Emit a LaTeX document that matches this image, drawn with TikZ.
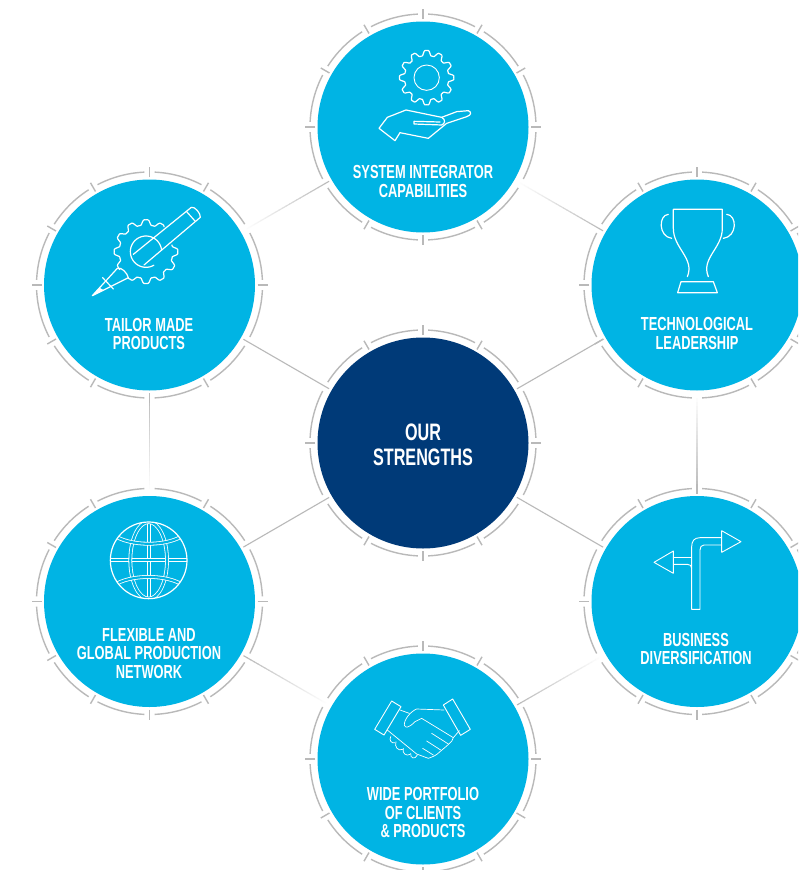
\documentclass[tikz,border=0pt]{standalone}
\usepackage{fontspec}
\setmainfont[FakeStretch=0.68]{Liberation Sans}
\usetikzlibrary{calc}
\definecolor{cyanfill}{RGB}{0,180,228}
\definecolor{navyfill}{RGB}{0,58,120}
\definecolor{ringgrey}{RGB}{185,185,185}
\tikzset{
  hubnode/.style={circle,fill=#1,draw=none,minimum size=211pt,inner sep=0pt,outer sep=3pt},
  caption/.style={text=white,align=center,font=\bfseries\fontsize{18.9}{18.8}\selectfont,inner sep=0pt},
  bigcaption/.style={text=white,align=center,font=\bfseries\fontsize{23.8}{25.5}\selectfont,inner sep=0pt},
  icon/.style={draw=white,line width=1.2pt,line join=round,line cap=round},
  thinicon/.style={draw=white,line width=0.9pt,line join=round,line cap=round},
  hairicon/.style={draw=white,line width=0.7pt,line join=round,line cap=round},
  zoomed/.style={shift={(#1)},x=0.33333pt,y=-0.33333pt},
}
\newcommand\ringat[2]{%
  \begin{scope}[shift={(#1)}]
    \foreach \a in {0,30,...,330}{%
      \draw[ringgrey,line width=1.4pt] (\a+2.6:113pt) arc[start angle=\a+2.6,delta angle=24.8,radius=113pt];}
    \foreach \a in {#2}{%
      \draw[ringgrey,line width=1.4pt] (\a:108pt) -- (\a:118pt);}
  \end{scope}}
% connector from node to node, colour running from #3 to #4
\newcommand\fadelink[4]{%
  \path (#1) -- (#2) coordinate[pos=0] (fs) coordinate[pos=1] (fe);
  \foreach \i in {0,...,23}{%
    \pgfmathsetmacro\ta{\i/24}\pgfmathsetmacro\tb{(\i+1.15)/24}\pgfmathtruncatemacro\pc{100-\i*100/23}
    \colorlet{fadecol}{#3!\pc!#4}
    \draw[fadecol,line width=1.1pt] ($(fs)!\ta!(fe)$) -- ($(fs)!\tb!(fe)$);}}
\begin{document}
\begin{tikzpicture}[x=1pt,y=-1pt]
\useasboundingbox (0,0) rectangle (798,870);
\clip (0,0) rectangle (798,870);
\fill[white] (0,0) rectangle (798,870);
\node[hubnode=navyfill] (hub) at (423,443) {};
\node[hubnode=cyanfill] (top) at (423,127) {};
\node[hubnode=cyanfill] (tl) at (149.5,285) {};
\node[hubnode=cyanfill] (tr) at (697,285) {};
\node[hubnode=cyanfill] (bl) at (149.5,601.5) {};
\node[hubnode=cyanfill] (br) at (697,601.5) {};
\node[hubnode=cyanfill] (bot) at (423,759) {};
% connectors
\foreach \n in {tl,tr,bl,br}{\draw[ringgrey,line width=1.1pt] (hub) -- (\n);}
\fadelink{top}{tl}{ringgrey}{white}
\fadelink{tr}{top}{ringgrey}{white}
\fadelink{tl}{bl}{ringgrey}{white}
\fadelink{br}{tr}{ringgrey}{white}
\fadelink{bl}{bot}{ringgrey}{white}
\fadelink{bot}{br}{ringgrey}{white}
% rings
\ringat{hub}{0,60,90,120,180,240,270,300}
\ringat{top}{0,30,60,90,120,150,180,240,270,300}
\ringat{tl}{0,60,90,120,150,180,210,240,270,300}
\ringat{tr}{30,60,90,120,180,210,240,300,330}
\ringat{bl}{0,60,120,150,180,210,240,270,300}
\ringat{br}{30,60,90,120,180,240,270,300,330}
\ringat{bot}{0,60,90,120,180,210,240,270,300,330}
% captions
\node[caption] (c1) at (423,181.5) {SYSTEM INTEGRATOR\\CAPABILITIES};
\node[caption] (c2) at (149,334) {TAILOR MADE\\PRODUCTS};
\node[caption] (c3) at (697,333.5) {TECHNOLOGICAL\\LEADERSHIP};
\node[caption] (c4) at (149,653.5) {FLEXIBLE AND\\GLOBAL PRODUCTION\\NETWORK};
\node[caption] (c5) at (696,649) {BUSINESS\\DIVERSIFICATION};
\node[caption] (c6) at (423,812.5) {WIDE PORTFOLIO\\OF CLIENTS\\\& PRODUCTS};
\node[bigcaption] (c0) at (423,445) {OUR\\STRENGTHS};
% gear and hand
\begin{scope}[zoomed={300,0}]
  \draw[icon] plot[domain=0:360,samples=181] ({380+(74+9*(cos(12*\x)-0.18*cos(36*\x)))*cos(\x)},{233+(74+9*(cos(12*\x)-0.18*cos(36*\x)))*sin(\x)}) -- cycle;
  \draw[thinicon] (380,233) circle[radius=38];
  \draw[icon] (237,385) -- (262,352) -- (318,330) -- (425,352) -- (470,335) -- (505,332) .. controls (515,336) and (515,345) .. (500,350) -- (440,370) -- (385,415) -- (300,398) -- (285,422) -- cycle;
  \draw[icon] (425,352) .. controls (438,358) and (435,372) .. (425,375) -- (342,372) -- (342,364) -- (420,366);
\end{scope}
% pencil and gear
\begin{scope}[zoomed={30,165}]
  \draw[icon] plot[domain=-14.5:124,samples=70] ({348+(88+9*(cos(12*\x)-0.18*cos(36*\x)))*cos(\x)},{260+(88+9*(cos(12*\x)-0.18*cos(36*\x)))*sin(\x)});
  \draw[icon] plot[domain=145.5:306,samples=80] ({348+(88+9*(cos(12*\x)-0.18*cos(36*\x)))*cos(\x)},{260+(88+9*(cos(12*\x)-0.18*cos(36*\x)))*sin(\x)});
  \draw[icon] plot[smooth,domain=-6:-300,samples=40] ({348+47*cos(\x)},{260+47*sin(\x)});
  \draw[icon] (310,268) -- (484,127) .. controls (495,124) and (512,145) .. (511,157) -- (342,300);
  \draw[icon] (470,140) -- (495,168);
  \draw[icon] (262,310) -- (187,392) -- (295,338);
  \draw[icon] (262,310) .. controls (275,305) and (292,325) .. (295,338);
  \draw[icon] (218,338) -- (250,372);
  \fill[white] (187,392) -- (208,368) -- (222,376) -- cycle;
\end{scope}
% trophy
\begin{scope}[zoomed={580,165}]
  \draw[icon] (322,335) .. controls (345,280) and (280,250) .. (280,190) -- (280,133) -- (427,133) -- (427,190) .. controls (427,250) and (362,280) .. (385,335);
  \draw[icon] (265,148) .. controls (235,150) and (235,215) .. (275,220);
  \draw[icon] (440,148) .. controls (472,150) and (472,215) .. (430,220);
  \draw[icon] (303,350) -- (400,350) -- (412,383) -- (293,383) -- cycle;
\end{scope}
% globe
\begin{scope}[zoomed={30,485}]
  \begin{scope}
    \clip (356,226) circle[radius=115];
    \tikzset{gridline/.style={draw=white,line width=0.8pt,double=cyanfill,double distance=2.2pt}}
    \draw[gridline] (356,100) -- (356,350);
    \draw[gridline] (230,226) -- (480,226);
    \draw[gridline] (356,226) ellipse[x radius=55,y radius=115];
    \draw[gridline] (250,150) .. controls (300,185) and (412,185) .. (462,150);
    \draw[gridline] (250,302) .. controls (300,267) and (412,267) .. (462,302);
  \end{scope}
  \draw[icon] (356,226) circle[radius=115];
\end{scope}
% arrows
\begin{scope}[zoomed={580,485}]
  \draw[thinicon] (425,158) -- (360,158) .. controls (343,158) and (335,168) .. (335,185) -- (335,373) -- (360,373) -- (360,195) .. controls (360,186) and (364,180) .. (372,180) -- (425,180);
  \draw[thinicon] (425,137) -- (483,170) -- (425,202) -- cycle;
  \draw[thinicon] (280,217) -- (335,217);
  \draw[thinicon] (280,238) -- (322,238) .. controls (330,238) and (335,242) .. (335,250);
  \draw[thinicon] (280,198) -- (222,232) -- (280,265) -- cycle;
\end{scope}
% handshake
\begin{scope}[zoomed={300,640}]
  \draw[thinicon] (275,183) -- (303,200) -- (252,285) -- (224,268) -- cycle;
  \draw[thinicon] (458,177) -- (511,268) -- (482,286) -- (430,195) -- cycle;
  \draw[hairicon] (300,210) -- (328,220);
  \draw[hairicon] (432,210) -- (350,207) .. controls (330,215) and (312,240) .. (313,255) .. controls (316,265) and (325,265) .. (345,245) -- (365,235) -- (460,293) -- (478,272);
  \draw[hairicon] (460,293) .. controls (455,310) and (445,310) .. (440,318) .. controls (435,325) and (425,328) .. (420,335) .. controls (410,345) and (400,350) .. (385,355) -- (350,342) -- (262,270);
  \draw[hairicon] (395,280) -- (445,312);
  \draw[hairicon] (380,303) -- (422,330);
  \draw[hairicon] (368,325) -- (400,345);
  \draw[hairicon] (272,290) .. controls (266,300) and (275,312) .. (285,308);
  \draw[hairicon] (288,305) .. controls (282,320) and (295,335) .. (308,328);
  \draw[hairicon] (310,325) .. controls (305,340) and (320,350) .. (330,343);
  \draw[hairicon] (332,340) .. controls (330,355) and (345,360) .. (352,345);
\end{scope}
\end{tikzpicture}
\end{document}
